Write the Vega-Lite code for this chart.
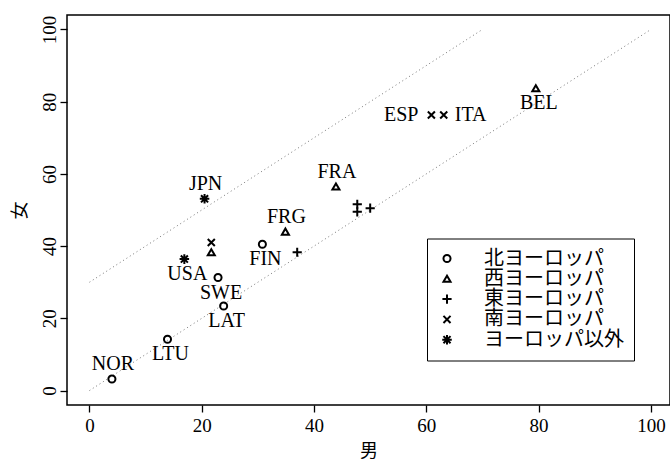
{
  "$schema": "https://vega.github.io/schema/vega-lite/v6.json",
  "autosize": {"type": "none"},
  "width": 603,
  "height": 390,
  "padding": {"left": 67, "top": 15, "right": 0, "bottom": 57},
  "background": "white",
  "config": {
    "view": {"stroke": "black", "strokeWidth": 1.5},
    "font": "Liberation Serif"
  },
  "data": {
    "values": [
      {"region": "北ヨーロッパ", "label": "NOR", "pos": "above", "male": 4.0, "female": 3.2},
      {"region": "北ヨーロッパ", "label": "LTU", "pos": "below", "male": 13.9, "female": 14.2},
      {"region": "北ヨーロッパ", "label": "LAT", "pos": "below", "male": 23.9, "female": 23.4},
      {"region": "北ヨーロッパ", "label": "SWE", "pos": "below", "male": 22.9, "female": 31.3},
      {"region": "北ヨーロッパ", "label": "FIN", "pos": "below", "male": 30.8, "female": 40.5},
      {"region": "西ヨーロッパ", "label": "", "pos": "none", "male": 21.7, "female": 38.3},
      {"region": "西ヨーロッパ", "label": "FRG", "pos": "above", "male": 34.9, "female": 44.0},
      {"region": "西ヨーロッパ", "label": "FRA", "pos": "above", "male": 43.9, "female": 56.5},
      {"region": "西ヨーロッパ", "label": "BEL", "pos": "below", "male": 79.5, "female": 83.7},
      {"region": "東ヨーロッパ", "label": "", "pos": "none", "male": 47.7, "female": 51.6},
      {"region": "東ヨーロッパ", "label": "", "pos": "none", "male": 47.7, "female": 49.5},
      {"region": "東ヨーロッパ", "label": "", "pos": "none", "male": 50.0, "female": 50.5},
      {"region": "東ヨーロッパ", "label": "", "pos": "none", "male": 37.0, "female": 38.3},
      {"region": "南ヨーロッパ", "label": "", "pos": "none", "male": 21.7, "female": 41.0},
      {"region": "南ヨーロッパ", "label": "ESP", "pos": "left", "male": 60.9, "female": 76.3},
      {"region": "南ヨーロッパ", "label": "ITA", "pos": "right", "male": 63.1, "female": 76.3},
      {"region": "ヨーロッパ以外", "label": "JPN", "pos": "above", "male": 20.5, "female": 53.1},
      {"region": "ヨーロッパ以外", "label": "USA", "pos": "below", "male": 16.9, "female": 36.4}
    ]
  },
  "encoding": {
    "x": {
      "field": "male", "type": "quantitative",
      "scale": {"domain": [-4, 103.4], "nice": false, "zero": false},
      "axis": {
        "title": "男", "values": [0, 20, 40, 60, 80, 100], "grid": false, "domain": false,
        "tickColor": "black", "tickSize": 7, "tickWidth": 1.3,
        "labelFont": "Liberation Serif", "labelFontSize": 19, "labelColor": "black", "labelPadding": 4,
        "titleFont": "Noto Sans CJK JP", "titleFontSize": 18, "titleFontWeight": "normal", "titleColor": "black", "titlePadding": 7
      }
    },
    "y": {
      "field": "female", "type": "quantitative",
      "scale": {"domain": [-4, 104], "nice": false, "zero": false},
      "axis": {
        "title": "女", "values": [0, 20, 40, 60, 80, 100], "grid": false, "domain": false,
        "tickColor": "black", "tickSize": 7, "tickWidth": 1.3,
        "labelFont": "Liberation Serif", "labelFontSize": 19, "labelColor": "black",
        "labelAngle": -90, "labelAlign": "center", "labelBaseline": "bottom", "labelPadding": 1,
        "titleFont": "Noto Sans CJK JP", "titleFontSize": 18, "titleFontWeight": "normal", "titleColor": "black",
        "titleAngle": -90, "titleAlign": "center", "titleBaseline": "middle", "titleX": -47, "titleY": 195
      }
    }
  },
  "layer": [
    {
      "data": {"values": [
        {"line": "a", "male": 0, "female": 0},
        {"line": "a", "male": 100, "female": 100},
        {"line": "b", "male": 0, "female": 30},
        {"line": "b", "male": 70, "female": 100}
      ]},
      "mark": {"type": "line", "color": "#777777", "strokeWidth": 1, "strokeDash": [1, 3]},
      "encoding": {"detail": {"field": "line"}}
    },
    {
      "mark": {"type": "point", "filled": false, "color": "black", "strokeWidth": 2, "size": 50, "opacity": 1},
      "encoding": {
        "shape": {
          "field": "region", "type": "nominal",
          "scale": {
            "domain": ["北ヨーロッパ", "西ヨーロッパ", "東ヨーロッパ", "南ヨーロッパ", "ヨーロッパ以外"],
            "range": ["circle", "triangle-up", "M-1.3,0H1.3M0,-1.3V1.3", "M-1,-1L1,1M-1,1L1,-1", "M-1.35,0H1.35M0,-1.35V1.35M-1,-1L1,1M-1,1L1,-1"]
          },
          "legend": {
            "orient": "none", "legendX": 360, "legendY": 223.5, "title": null,
            "strokeColor": "black", "fillColor": "white", "padding": 10,
            "labelFont": "Noto Sans CJK JP", "labelFontSize": 20, "labelColor": "black",
            "labelOffset": 27, "rowPadding": 0.3, "symbolOffset": 0,
            "symbolStrokeColor": "black", "symbolStrokeWidth": 2, "symbolSize": 50
          }
        }
      }
    },
    {
      "transform": [{"filter": "datum.pos == 'below'"}],
      "mark": {"type": "text", "font": "Liberation Serif", "fontSize": 20, "color": "black", "baseline": "middle", "align": "center", "dy": 15, "dx": 3},
      "encoding": {"text": {"field": "label"}}
    },
    {
      "transform": [{"filter": "datum.pos == 'above'"}],
      "mark": {"type": "text", "font": "Liberation Serif", "fontSize": 20, "color": "black", "baseline": "middle", "align": "center", "dy": -15, "dx": 1},
      "encoding": {"text": {"field": "label"}}
    },
    {
      "transform": [{"filter": "datum.pos == 'left'"}],
      "mark": {"type": "text", "font": "Liberation Serif", "fontSize": 20, "color": "black", "baseline": "middle", "align": "right", "dx": -13},
      "encoding": {"text": {"field": "label"}}
    },
    {
      "transform": [{"filter": "datum.pos == 'right'"}],
      "mark": {"type": "text", "font": "Liberation Serif", "fontSize": 20, "color": "black", "baseline": "middle", "align": "left", "dx": 11},
      "encoding": {"text": {"field": "label"}}
    }
  ]
}
